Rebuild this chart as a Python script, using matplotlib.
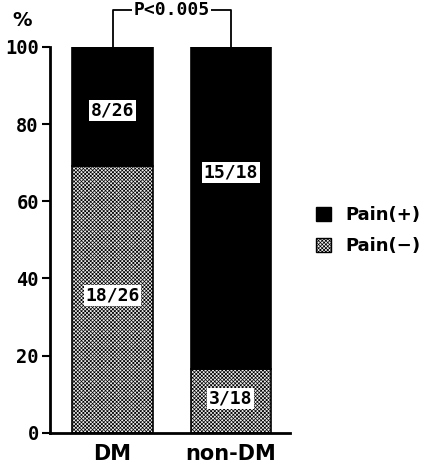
import matplotlib
matplotlib.use("Agg")
import matplotlib.pyplot as plt
from matplotlib.patches import Patch

# data
groups = ["DM", "non-DM"]
pain_pos = [8 / 26 * 100, 15 / 18 * 100]
pain_neg = [18 / 26 * 100, 3 / 18 * 100]
pos_labels = ["8/26", "15/18"]
neg_labels = ["18/26", "3/18"]
pos_label_y = [83.5, 67.5]
neg_label_y = [35.5, 9.0]
yticks = [0, 20, 40, 60, 80, 100]
p_text = "P<0.005"
legend_labels = ["Pain(+)", "Pain(\u2212)"]

NUM = ["DejaVu Sans Mono", "DejaVu Sans"]
plt.rcParams["font.family"] = NUM
plt.rcParams["hatch.linewidth"] = 0.5
HATCH = "x" * 9

fig = plt.figure(figsize=(4.38, 4.68), dpi=100)
ax = fig.add_axes([0.114, 0.075, 0.548, 0.825])

x = [0, 1]
w = 0.68
ax.bar(x, pain_neg, width=w, color="#ececec", hatch=HATCH,
       edgecolor="black", linewidth=1.2)
ax.bar(x, pain_pos, width=w, bottom=pain_neg, color="black",
       edgecolor="black", linewidth=1.2)

box = dict(facecolor="white", edgecolor="none", pad=1.2)
for xi, lab, yy in zip(x, pos_labels, pos_label_y):
    ax.text(xi, yy, lab, ha="center", va="center", fontsize=13,
            fontweight="bold", bbox=box)
for xi, lab, yy in zip(x, neg_labels, neg_label_y):
    ax.text(xi, yy, lab, ha="center", va="center", fontsize=13,
            fontweight="bold", bbox=box)

ax.set_xlim(-0.53, 1.5)
ax.set_ylim(0, 100)
ax.set_yticks(yticks)
ax.set_yticklabels([str(v) for v in yticks], fontsize=13.5, fontweight="bold")
ax.set_xticks(x)
ax.set_xticklabels(groups, fontsize=15, fontweight="bold", family="DejaVu Sans")
ax.tick_params(axis="x", length=0, pad=8)
ax.tick_params(axis="y", length=6, width=1.5, pad=2)
for s in ["top", "right"]:
    ax.spines[s].set_visible(False)
for s in ["left", "bottom"]:
    ax.spines[s].set_linewidth(2)

fig.text(22 / 438, 1 - 20 / 468, "%", ha="center", va="center",
         fontsize=14, fontweight="bold", family="DejaVu Sans")

# significance bracket
yb = 109.5
ax.plot([0, 0, 1, 1], [100, yb, yb, 100], color="black", lw=1.3, clip_on=False)
ax.text(0.5, yb, p_text, ha="center", va="center", fontsize=13,
        fontweight="bold",
        bbox=dict(facecolor="white", edgecolor="none", pad=1), clip_on=False)

handles = [Patch(facecolor="black", edgecolor="black"),
           Patch(facecolor="#ececec", hatch=HATCH, edgecolor="black")]
fig.legend(handles, legend_labels, loc="center left",
           bbox_to_anchor=(0.685, 0.507), frameon=False, handlelength=0.8,
           handleheight=0.8, handletextpad=0.8, labelspacing=0.75,
           prop={"family": "DejaVu Sans", "weight": "bold", "size": 13})

fig.savefig("out.png", dpi=100)
